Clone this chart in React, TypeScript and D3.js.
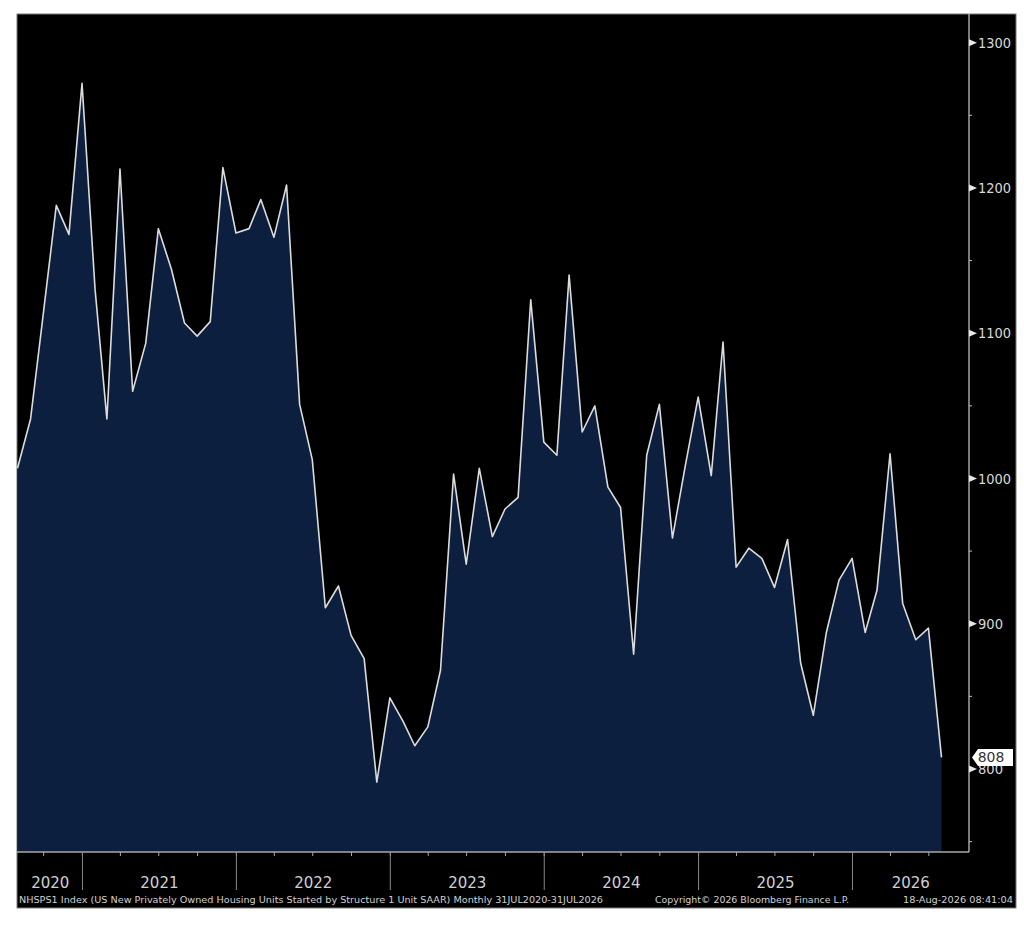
import React, { useEffect } from 'react';
import * as d3 from 'd3';

// NHSPS1 monthly values, Jul 2020 .. Jul 2026 (thousands, SAAR)
const housingStarts = [
  1007, 1041, 1113, 1188, 1168, 1272,
  1130, 1041, 1213, 1060, 1093, 1172, 1144, 1107, 1098, 1108, 1214, 1169,
  1172, 1192, 1166, 1202, 1051, 1013, 911, 926, 892, 876, 791, 849,
  833, 816, 829, 868, 1003, 941, 1007, 960, 979, 987, 1123, 1025,
  1016, 1140, 1032, 1050, 994, 980, 879, 1016, 1051, 959, 1008, 1056,
  1002, 1094, 939, 952, 945, 925, 958, 873, 837, 894, 930, 945,
  894, 923, 1017, 914, 889, 897, 808,
];
const firstMonth = new Date(2020, 6, 1);
const yTicks = [800, 900, 1000, 1100, 1200, 1300];
const yMinorTicks = [750, 850, 950, 1050, 1150, 1250];
const years = [2020, 2021, 2022, 2023, 2024, 2025, 2026];
const lastLabel = '808';
const footerLeft =
  'NHSPS1 Index (US New Privately Owned Housing Units Started by Structure 1 Unit SAAR) Monthly 31JUL2020-31JUL2026';
const footerMid = 'Copyright\u00A9 2026 Bloomberg Finance L.P.';
const footerRight = '18-Aug-2026 08:41:04';

const W = 1024;
const H = 932;
const panel = { left: 17, top: 14, right: 1016, bottom: 908 };
const plotRight = 969;
const axisY = 852;
const font = '"DejaVu Sans", Verdana, sans-serif';

export default function App() {
  useEffect(() => {
    document.body.style.margin = '0';
  }, []);

  // points sit at the last day of each month
  const points = housingStarts.map((v, i) => ({
    date: d3.timeDay.offset(d3.timeMonth.offset(firstMonth, i + 1), -1),
    value: v,
  }));

  const x = d3
    .scaleTime()
    .domain([points[0].date, points[points.length - 1].date])
    .range([17.5, 941.5]);
  const y = d3.scaleLinear().domain([800, 1300]).range([769, 42.7]);

  const area = d3
    .area<{ date: Date; value: number }>()
    .x(d => x(d.date))
    .y0(axisY)
    .y1(d => y(d.value));
  const line = d3
    .line<{ date: Date; value: number }>()
    .x(d => x(d.date))
    .y(d => y(d.value));

  const quarterTicks = d3
    .timeMonth.every(3)!
    .range(new Date(2020, 9, 1), new Date(2026, 9, 1))
    .filter(d => x(d) < plotRight);
  const yearStarts = years.slice(1).map(yr => new Date(yr, 0, 1));
  const yearBounds = [panel.left + 1, ...yearStarts.map(d => x(d)), plotRight];

  const last = points[points.length - 1];
  const ly = y(last.value);

  return (
    <svg width={W} height={H} style={{ display: 'block', background: '#fff' }}>
      <rect
        x={panel.left}
        y={panel.top}
        width={panel.right - panel.left}
        height={panel.bottom - panel.top}
        fill="#000"
        stroke="#7a7a7a"
        strokeWidth={1}
      />
      <path d={area(points) ?? ''} fill="#0d1f3e" />
      <path d={line(points) ?? ''} fill="none" stroke="#dcdcdc" strokeWidth={1.6} strokeLinejoin="round" />

      {/* bottom axis */}
      <line x1={panel.left} x2={plotRight} y1={axisY} y2={axisY} stroke="#a8a8a8" strokeWidth={1.3} />
      {quarterTicks.map((d, i) => (
        <line key={'q' + i} x1={x(d)} x2={x(d)} y1={axisY} y2={axisY + 4} stroke="#a8a8a8" />
      ))}
      {yearStarts.map((d, i) => (
        <line key={'yb' + i} x1={x(d)} x2={x(d)} y1={axisY} y2={890} stroke="#8a8a8a" />
      ))}
      {years.map((yr, i) => (
        <text
          key={'yl' + yr}
          x={(yearBounds[i] + yearBounds[i + 1]) / 2}
          y={888}
          textAnchor="middle"
          fill="#d0d0d0"
          fontFamily={font}
          fontSize={15}
        >
          {yr}
        </text>
      ))}

      {/* right axis */}
      <line x1={plotRight} x2={plotRight} y1={panel.top} y2={axisY} stroke="#bdbdbd" strokeWidth={1.3} />
      {yMinorTicks.map(t => (
        <line key={'m' + t} x1={plotRight} x2={plotRight + 3} y1={y(t)} y2={y(t)} stroke="#bdbdbd" />
      ))}
      {yTicks.map(t => (
        <g key={'t' + t}>
          <path
            d={`M${plotRight},${y(t) - 3.5}L${plotRight + 8},${y(t)}L${plotRight},${y(t) + 3.5}Z`}
            fill="#e8e8e8"
          />
          <text
            x={plotRight + 9}
            y={y(t)}
            dy="0.36em"
            fill="#d8d8d8"
            fontFamily={font}
            fontSize={14}
            textLength={t >= 1000 ? 33 : 25}
            lengthAdjust="spacingAndGlyphs"
          >
            {t}
          </text>
        </g>
      ))}

      {/* last value tag, drawn over the 800 label as in the terminal */}
      <path
        d={`M${plotRight + 3},${ly}L${plotRight + 9},${ly - 8.5}L${1013},${ly - 8.5}L${1013},${ly + 8.5}L${plotRight + 9},${ly + 8.5}Z`}
        fill="#fff"
      />
      <text x={991} y={ly} dy="0.36em" textAnchor="middle" fill="#333" fontFamily={font} fontSize={14}>
        {lastLabel}
      </text>

      {/* footer */}
      <text x={19} y={903} fill="#d0d0d0" fontFamily={font} fontSize={9.5} textLength={584} lengthAdjust="spacingAndGlyphs">
        {footerLeft}
      </text>
      <text x={655} y={903} fill="#d0d0d0" fontFamily={font} fontSize={9.5} textLength={194} lengthAdjust="spacingAndGlyphs">
        {footerMid}
      </text>
      <text x={903} y={903} fill="#d0d0d0" fontFamily={font} fontSize={9.5} textLength={110} lengthAdjust="spacingAndGlyphs">
        {footerRight}
      </text>
    </svg>
  );
}
